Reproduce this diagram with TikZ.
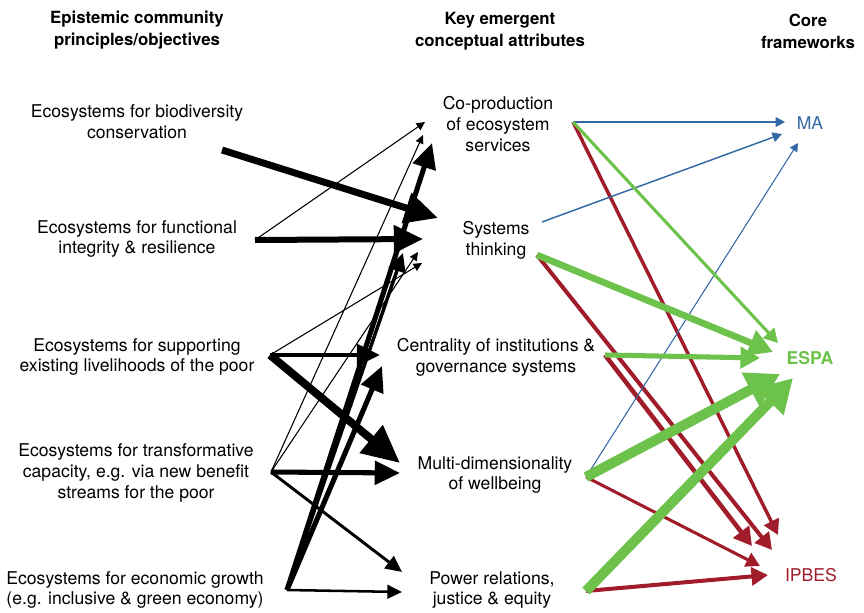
\documentclass[tikz,border=0pt]{standalone}
\usepackage{fontspec}
\setmainfont{TeX Gyre Heros}
\usetikzlibrary{arrows.meta}
\definecolor{mablue}{RGB}{52,105,165}
\definecolor{espagreen}{RGB}{108,194,74}
\definecolor{ipbesred}{RGB}{160,28,42}
\begin{document}
\begin{tikzpicture}[x=0.75pt,y=-0.75pt,
  txt/.style={align=center, font=\fontsize{13.2}{15.7}\selectfont, inner sep=0pt},
  hdr/.style={align=center, font=\fontsize{12.6}{16.5}\selectfont\bfseries, inner sep=0pt},
  blk/.style={draw=black, line width=#1, -{Triangle[length=3pt 4.2, width=3pt 3.8]}},
  col/.style 2 args={draw=#1, line width=#2, -{Triangle[length=4pt 2.8, width=4pt 3.1]}}
]
\useasboundingbox (0,0) rectangle (864,613);

% headers
\node[hdr] (h1) at (137,30) {Epistemic community\\principles/objectives};
\node[hdr] (h2) at (500,31) {Key emergent\\conceptual attributes};
\node[hdr] (h3) at (808,31) {Core\\frameworks};

% left column
\node[txt] (l1) at (137,122) {Ecosystems for biodiversity\\conservation};
\node[txt] (l2) at (137,239) {Ecosystems for functional\\integrity \& resilience};
\node[txt] (l3) at (137,357) {Ecosystems for supporting\\existing livelihoods of the poor};
\node[txt] (l4) at (136,473) {Ecosystems for transformative\\capacity, e.g. via new benefit\\streams for the poor};
\node[txt] (l5) at (135,590) {Ecosystems for economic growth\\(e.g. inclusive \& green economy)};

% middle column
\node[txt] (m1) at (498,124) {Co-production\\of ecosystem\\services};
\node[txt] (m2) at (496,240) {Systems\\thinking};
\node[txt] (m3) at (496,357) {Centrality of institutions \&\\governance systems};
\node[txt] (m4) at (495,475) {Multi-dimensionality\\of wellbeing};
\node[txt] (m5) at (492,590) {Power relations,\\justice \& equity};

% right column
\node[txt, text=mablue] (ma) at (810,123) {MA};
\node[txt, text=espagreen, font=\fontsize{13.2}{15.7}\selectfont\bfseries] (espa) at (810,358) {ESPA};
\node[txt, text=ipbesred] (ipbes) at (811,575) {IPBES};

% start points (left)
\coordinate (l1s) at (222,150);
\coordinate (l2s) at (255,240);
\coordinate (l3s) at (270,355);
\coordinate (l4s) at (271,472);
\coordinate (l5s) at (287,590);
% tips (middle, incoming)
\coordinate (t12) at (438,218);
\coordinate (t22) at (423,239);
\coordinate (t21) at (425,122);
\coordinate (t32) at (422,263);
\coordinate (t33) at (380,355);
\coordinate (t34) at (400,463);
\coordinate (t41) at (423,135);
\coordinate (t42) at (418,252);
\coordinate (t44) at (400,473);
\coordinate (t45) at (402,572);
\coordinate (t51) at (432,143);
\coordinate (t52) at (403,253);
\coordinate (t53) at (382,366);
\coordinate (t55) at (402,592);

% black arrows
\draw[blk=5.2pt] (l1s) -- (t12);
\draw[blk=4.5pt] (l2s) -- (t22);
\draw[blk=0.8pt] (l2s) -- (t21);
\draw[blk=0.8pt] (l3s) -- (t32);
\draw[blk=3.4pt] (l3s) -- (t33);
\draw[blk=6pt] (l3s) -- (t34);
\draw[blk=0.8pt] (l4s) -- (t41);
\draw[blk=0.8pt] (l4s) -- (t42);
\draw[blk=3.8pt] (l4s) -- (t44);
\draw[blk=2.2pt] (l4s) -- (t45);
\draw[blk=3.8pt] (l5s) -- (t51);
\draw[blk=2.6pt] (l5s) -- (t52);
\draw[blk=3.8pt] (l5s) -- (t53);
\draw[blk=1.9pt] (l5s) -- (t55);

% start points (middle, outgoing)
\coordinate (m1s) at (573,122);
\coordinate (m2b) at (542,222);
\coordinate (m2s) at (537,255);
\coordinate (m3s) at (605,355);
\coordinate (m4s) at (586,477);
\coordinate (m5s) at (586,591);
% tips (right)
\coordinate (u1) at (785,122);
\coordinate (u2) at (782,134);
\coordinate (u4) at (798,143);
\coordinate (g1) at (778,343);
\coordinate (g2) at (773,352);
\coordinate (g3) at (760,358);
\coordinate (g4) at (780,374);
\coordinate (g5) at (793,378);
\coordinate (r1) at (778,535);
\coordinate (r2) at (772,550);
\coordinate (r3) at (752,546);
\coordinate (r4) at (760,566);
\coordinate (r5) at (768,575);

% red
\draw[col={ipbesred}{2.6pt}] (m1s) -- (r1);
\draw[col={ipbesred}{3pt}] (m2s) -- (r2);
\draw[col={ipbesred}{3.4pt}] (m3s) -- (r3);
\draw[col={ipbesred}{2.3pt}] (m4s) -- (r4);
\draw[col={ipbesred}{3pt}] (m5s) -- (r5);
% blue
\draw[col={mablue}{1.1pt}] (m1s) -- (u1);
\draw[col={mablue}{1.1pt}] (m2b) -- (u2);
\draw[col={mablue}{0.8pt}] (m4s) -- (u4);
% green
\draw[col={espagreen}{2.3pt}] (m1s) -- (g1);
\draw[col={espagreen}{5pt}] (m2s) -- (g2);
\draw[col={espagreen}{3.8pt}] (m3s) -- (g3);
\draw[col={espagreen}{7.5pt}] (m4s) -- (g4);
\draw[col={espagreen}{7.5pt}] (m5s) -- (g5);
\end{tikzpicture}
\end{document}
